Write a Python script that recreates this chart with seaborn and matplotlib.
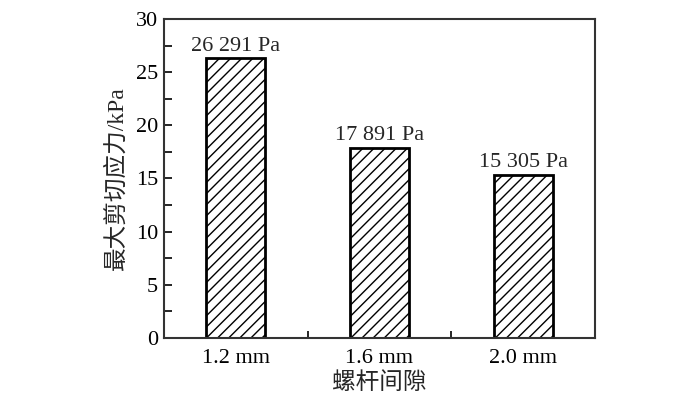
import matplotlib
matplotlib.use("Agg")
import matplotlib.pyplot as plt
import seaborn as sns
import pandas as pd
from matplotlib.ticker import MultipleLocator, FixedLocator

# data
gaps = ["1.2 mm", "1.6 mm", "2.0 mm"]
stress_kpa = [26.291, 17.891, 15.305]
value_labels = ["26 291 Pa", "17 891 Pa", "15 305 Pa"]

data = pd.DataFrame({"gap": gaps, "stress": stress_kpa})

sns.set_style("white")
plt.rcParams['font.family'] = ['Liberation Serif', 'Noto Sans CJK SC']
plt.rcParams['hatch.linewidth'] = 1.0

fig = plt.figure(figsize=(7, 3.96), dpi=100)
ax = fig.add_axes([0.234, 0.1465, 0.616, 0.8055])

sns.barplot(data=data, x="gap", y="stress", color="white", width=0.41,
            edgecolor="black", linewidth=2, ax=ax)
for p in ax.patches:
    p.set_hatch("///")

ax.bar_label(ax.containers[0], labels=value_labels, padding=2, fontsize=16)

ax.set_xlim(-0.5, 2.5)
ax.set_ylim(0, 30)
ax.yaxis.set_major_locator(MultipleLocator(5))
ax.yaxis.set_minor_locator(MultipleLocator(2.5))
ax.xaxis.set_minor_locator(FixedLocator([0.5, 1.5]))

for s in ax.spines.values():
    s.set_linewidth(1.5)
    s.set_color("#333333")
ax.tick_params(which="both", direction="in", length=6, width=1.2, labelsize=16,
               colors="black", pad=4)
ax.tick_params(axis="x", which="major", length=3, pad=8)
ax.tick_params(left=True, bottom=True)
ax.tick_params(axis="x", which="minor", bottom=True, length=5)
ax.tick_params(axis="y", which="minor", left=True, length=6)

ax.set_xlabel("螺杆间隙", fontsize=17, labelpad=3)
ax.set_ylabel("最大剪切应力/kPa", fontsize=17, labelpad=6)

fig.savefig("out.png", dpi=100)
